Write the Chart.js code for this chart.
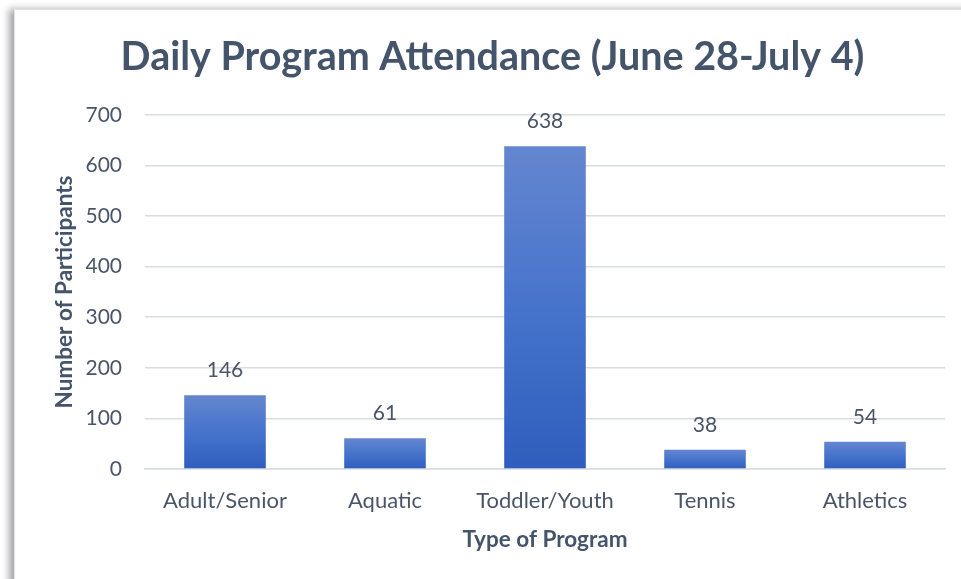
<!DOCTYPE html>
<html>
<head>
<meta charset="utf-8">
<script src="https://cdn.jsdelivr.net/npm/chart.js@4.4.1/dist/chart.umd.min.js"></script>
<style>
    html, body { margin: 0; padding: 0; background: #ffffff; }
    body { width: 961px; height: 579px; position: relative; overflow: hidden; }
    #frame {
        position: absolute; left: 14px; top: 9px; width: 960px; height: 580px;
        border-top: 1px solid #dfe2e6; border-left: 1px solid #dfe2e6;
        box-shadow: -5px 0 7px rgba(0, 0, 0, 0.35);
        background: #ffffff;
    }
    #wrap { position: absolute; left: 0; top: 0; width: 961px; height: 579px; }
</style>
</head>
<body>
<div id="frame"></div>
<div id="wrap"><canvas id="myChart" width="961" height="579"></canvas></div>
<script>
const programs = ["Adult/Senior", "Aquatic", "Toddler/Youth", "Tennis", "Athletics"];
const participants = [146, 61, 638, 38, 54];
const yTicks = [0, 100, 200, 300, 400, 500, 600, 700];

const textColor = "#44546A";
const tickColor = "#4A5568";

// each bar gets its own gradient, lighter at the top
const barGradient = (context) => {
    const chart = context.chart;
    const y = chart.scales && chart.scales.y;
    if (!y || context.raw === undefined) return "#4674CC";
    const top = y.getPixelForValue(context.raw);
    const base = y.getPixelForValue(0);
    if (!isFinite(top) || !isFinite(base) || top === base) return "#4674CC";
    const g = chart.ctx.createLinearGradient(0, top, 0, base);
    g.addColorStop(0, "#6586CF");
    g.addColorStop(0.5, "#4674CC");
    g.addColorStop(1, "#2E5EBD");
    return g;
};

// value labels above the bars
const valueLabels = {
    id: "valueLabels",
    afterDatasetsDraw(chart) {
        const ctx = chart.ctx;
        const meta = chart.getDatasetMeta(0);
        ctx.save();
        ctx.font = "21px Lato";
        ctx.fillStyle = tickColor;
        ctx.textAlign = "center";
        ctx.textBaseline = "alphabetic";
        meta.data.forEach((bar, i) => {
            ctx.fillText(participants[i].toString(), bar.x, bar.y - 18);
        });
        ctx.restore();
    }
};

let ctx = document.getElementById("myChart").getContext("2d");

let myChart = new Chart(ctx, {
    type: "bar",
    data: {
        labels: programs,
        datasets: [{
            label: "Participants",
            data: participants,
            backgroundColor: barGradient,
            categoryPercentage: 1,
            barPercentage: 0.51
        }]
    },
    options: {
        responsive: false,
        animation: false,
        layout: { padding: { left: 40, right: 16, top: 0, bottom: 21.5 } },
        plugins: {
            legend: { display: false },
            tooltip: { enabled: false },
            title: {
                display: true,
                text: "Daily Program Attendance (June 28-July 4)",
                color: textColor,
                font: { family: "Lato", size: 39.5, weight: "bold", lineHeight: 1.2 },
                padding: { top: 33.3, bottom: 34.2 }
            }
        },
        scales: {
            x: {
                grid: { display: false },
                border: { display: true, color: "#D9DCE1", width: 1.5 },
                ticks: { color: tickColor, font: { family: "Lato", size: 22 }, padding: 11 },
                title: {
                    display: true,
                    text: "Type of Program",
                    color: textColor,
                    font: { family: "Lato", size: 22.5, weight: "bold", lineHeight: 1.2 },
                    padding: { top: 4, bottom: 4 }
                },
                afterFit: (scale) => { scale.height = 88.5; }
            },
            y: {
                min: 0,
                max: 700,
                afterBuildTicks: (scale) => { scale.ticks = yTicks.map(v => ({ value: v })); },
                grid: { color: "#D9DCE1", lineWidth: 1.5, drawTicks: false },
                border: { display: false },
                ticks: { color: tickColor, font: { family: "Lato", size: 21 }, padding: 23 },
                title: {
                    display: true,
                    text: "Number of Participants",
                    color: textColor,
                    font: { family: "Lato", size: 22.5, weight: "bold", lineHeight: 1.2 },
                    padding: { top: 11.5, bottom: 4 }
                },
                afterFit: (scale) => { scale.width = 105; }
            }
        }
    },
    plugins: [valueLabels]
});
</script>
</body>
</html>
